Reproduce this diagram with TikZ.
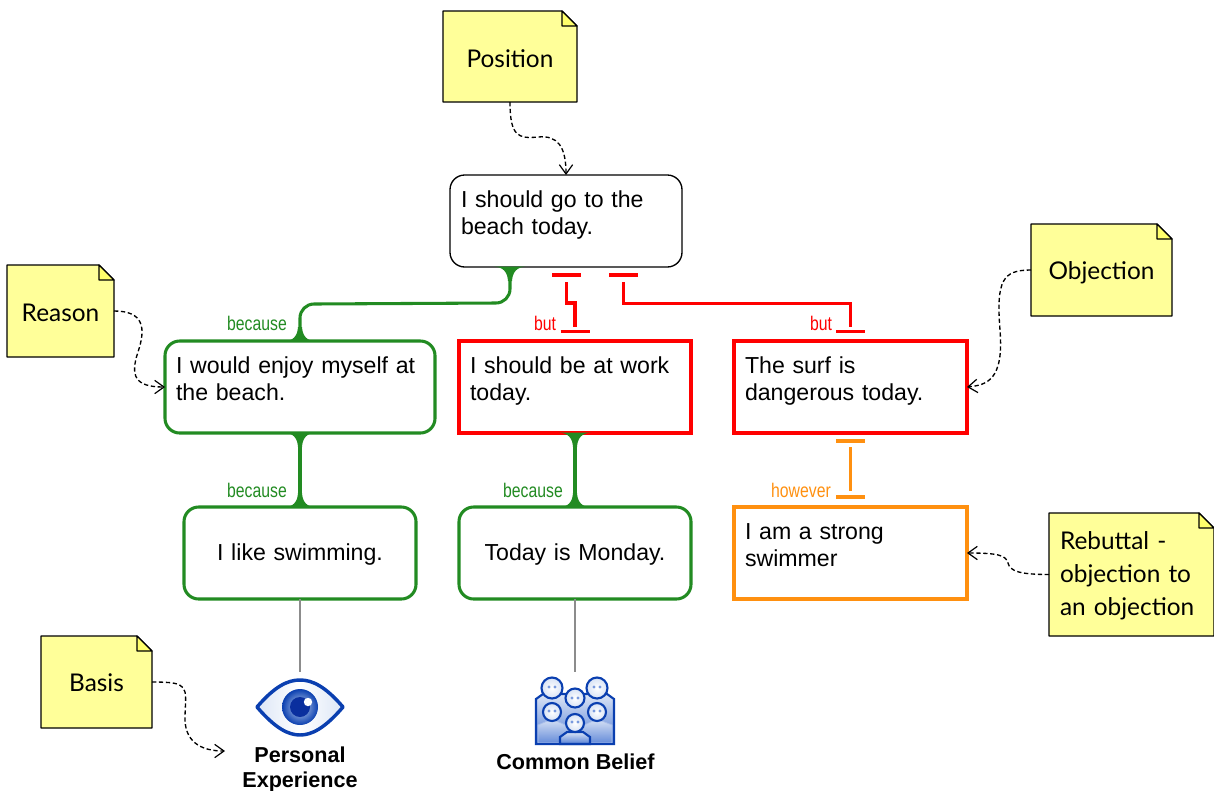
\documentclass[tikz,border=0pt]{standalone}
\usepackage{fontspec}
\setmainfont{Liberation Sans}
\newfontfamily\notef{Lato}
\newfontfamily\narrowf[FakeStretch=0.8]{Liberation Sans}
\usetikzlibrary{arrows.meta,backgrounds,calc}
\definecolor{notefill}{HTML}{FFFF99}
\definecolor{goodgreen}{HTML}{228B22}
\definecolor{badred}{HTML}{FF0000}
\definecolor{rebut}{HTML}{FF9010}
\definecolor{iconblue}{HTML}{0A3FB0}
\definecolor{icondark}{HTML}{0A2F9E}
\definecolor{iconmid}{HTML}{3F6FD0}
\definecolor{iconpale}{HTML}{C5D5F0}
\newcommand{\nudge}[2]{\raisebox{#1}[\height][\depth]{#2}}
\tikzset{
  wh/.style 2 args={minimum width=#1*0.75pt,minimum height=#2*0.75pt},
  argbox/.style 2 args={rectangle,inner sep=0pt,outer sep=0pt,wh={#1}{92},text width=(#1-22)*0.75pt,
     font=\fontsize{17.35}{20.25}\selectfont,line width=2.3pt,align=left},
  sharpbox/.style={line width=2.3pt},
  roundbox/.style={rounded corners=11pt},
  notebox/.style 2 args={rectangle,inner sep=0pt,outer sep=0pt,wh={#1}{#2},font=\notef\fontsize{18.3}{24.75}\selectfont},
  noteline/.style={draw=black,line width=0.9pt,fill=notefill,line join=round},
  dashlink/.style={draw=black,line width=1pt,dash pattern=on 3.2pt off 2pt,-{Straight Barb[length=7pt,width=10pt,line width=0.9pt]}},
  conn/.style={line width=2.3pt,line join=miter},
  bar/.style={line width=2.3pt},
  connlabel/.style={inner sep=0pt,font=\narrowf\fontsize{14.8}{16}\selectfont},
  iconlabel/.style={inner sep=0pt,align=center,font=\bfseries\fontsize{16.2}{18.5}\selectfont},
  grayline/.style={draw=black!45,line width=0.9pt},
  person/.style={draw=iconblue,line width=1.6pt,top color=iconpale!60,bottom color=iconmid!90},
  crowdbody/.style={draw=iconmid!45,line width=0.6pt,top color=iconpale!70,bottom color=iconmid!80},
  headc/.style={draw=iconblue,line width=1.6pt,inner color=white,outer color=iconpale!70},
}
% paper with a folded corner behind node #1
\newcommand{\notepaper}[1]{%
  \begin{pgfonlayer}{background}
    \path[noteline] (#1.north west) -- ($(#1.north east)+(-15,0)$) -- ($(#1.north east)+(0,15)$)
      -- (#1.south east) -- (#1.south west) -- cycle;
    \path[draw=black,line width=0.9pt,fill=notefill!70!yellow,line join=round] ($(#1.north east)+(-15,0)$) -- ($(#1.north east)+(-15,15)$) -- ($(#1.north east)+(0,15)$) -- cycle;
  \end{pgfonlayer}}
% flared junction: #1 point, #2 direction (+1 down, -1 up), #3 colour
\newcommand{\flare}[3]{%
  \fill[#3,shift={(#1)},yscale=#2] (-16,-0.5) .. controls (-7,0) and (-2.5,5) .. (-2,14) -- (2,14)
     .. controls (2.5,5) and (7,0) .. (16,-0.5) -- cycle;}
\begin{document}
\begin{tikzpicture}[x=0.75pt,y=-0.75pt]
\useasboundingbox (0,0) rectangle (1214,790);

% argument boxes
\node[argbox={232}{},draw=black,line width=1pt,roundbox] (top) at (566,221) {I should go to the\\beach today.\\[-8pt]\mbox{}};
\node[argbox={270}{},draw=goodgreen,roundbox] (r1) at (300,387) {I would enjoy myself at\\the beach.\\[-8pt]\mbox{}};
\node[argbox={232}{},draw=badred,sharpbox] (o1) at (575,387) {I should be at work\\today.\\[-8pt]\mbox{}};
\node[argbox={233}{},draw=badred,sharpbox] (o2) at (850.5,387) {The surf is\\dangerous today.\\[-8pt]\mbox{}};
\node[argbox={232}{},draw=goodgreen,roundbox,align=center] (r2) at (300,553) {\nudge{-1.5pt}{I like swimming.}};
\node[argbox={232}{},draw=goodgreen,roundbox,align=center] (r3) at (575,553) {\nudge{-1.5pt}{Today is Monday.}};
\node[argbox={233}{},draw=rebut,sharpbox] (rb) at (850.5,553) {I am a strong\\swimmer\\[-8pt]\mbox{}};

% green connectors
\coordinate (t1) at ($(top.south)+(-56,0)$);
\draw[goodgreen,conn] (t1) -- ++(0,22) arc[start angle=0,end angle=90,radius=14] -- (314,304) arc[start angle=-90,end angle=-180,radius=14] -- (r1.north);
\flare{t1}{1}{goodgreen}
\flare{r1.north}{-1}{goodgreen}
\draw[goodgreen,conn,line width=2.8pt] (r1.south) -- (r2.north);
\flare{r1.south}{1}{goodgreen}
\flare{r2.north}{-1}{goodgreen}
\draw[goodgreen,conn,line width=2.8pt] (o1.south) -- (r3.north);
\flare{o1.south}{1}{goodgreen}
\flare{r3.north}{-1}{goodgreen}

% objection connectors
\coordinate (b1) at (566.5,275);
\coordinate (b2) at (623.5,275);
\coordinate (b3) at (575,331.5);
\coordinate (b4) at (850.5,331.5);
\coordinate (b5) at (850.5,441);
\coordinate (b6) at (850.5,497);
\draw[badred,bar] ($(b1)+(-14.5,0)$) -- ($(b1)+(14.5,0)$);
\draw[badred,bar] ($(b2)+(-14.5,0)$) -- ($(b2)+(14.5,0)$);
\draw[badred,bar] ($(b3)+(-14.5,0)$) -- ($(b3)+(14.5,0)$);
\draw[badred,bar] ($(b4)+(-14.5,0)$) -- ($(b4)+(14.5,0)$);
\draw[rebut,bar] ($(b5)+(-14.5,0)$) -- ($(b5)+(14.5,0)$);
\draw[rebut,bar] ($(b6)+(-14.5,0)$) -- ($(b6)+(14.5,0)$);
\draw[badred,conn] ($(b1)+(0,7)$) -- (566.5,303) -- (575,303) -- ($(b3)+(0,-5)$);
\draw[badred,conn] ($(b2)+(0,7)$) -- (623.5,303.5) -- (850.5,303.5) -- ($(b4)+(0,-5)$);
\draw[rebut,conn] ($(b5)+(0,6)$) -- ($(b6)+(0,-6)$);

% connector labels
\node[connlabel,text=goodgreen,anchor=base] (l1) at (257,330) {because};
\node[connlabel,text=badred,anchor=base] (l2) at (545,330) {but};
\node[connlabel,text=badred,anchor=base] (l3) at (821,330) {but};
\node[connlabel,text=goodgreen,anchor=base] (l4) at (257,497) {because};
\node[connlabel,text=goodgreen,anchor=base] (l5) at (533,497) {because};
\node[connlabel,text=rebut,anchor=base] (l6) at (801,497) {however};

% notes
\node[notebox={134}{91}] (nPos) at (510,56.5) {\nudge{-1.5pt}{Position}};
\notepaper{nPos}
\node[notebox={107}{92}] (nRea) at (60.5,311) {\nudge{-1.5pt}{Reason}};
\notepaper{nRea}
\node[notebox={141}{92}] (nObj) at (1101.5,270) {\nudge{-2.25pt}{Objection}};
\notepaper{nObj}
\node[notebox={111}{92}] (nBas) at (96.5,682) {\nudge{-0.75pt}{Basis}};
\notepaper{nBas}
\node[notebox={165}{123},align=left,text width=143*0.75pt] (nReb) at (1131.5,574.5) {\nudge{-0.75pt}{Rebuttal -}\\\nudge{-0.75pt}{objection to}\\\nudge{-0.75pt}{an objection}};
\notepaper{nReb}

% note links
\coordinate (m1) at (538,137);
\draw[dashlink] (nPos.south) .. controls +(0,34) and +(-20,2) .. (m1) .. controls +(20,-2) and +(0,-28) .. (top.north);
\coordinate (m2) at (138,352);
\draw[dashlink] (nRea.east) .. controls +(30,0) and +(8,-24) .. (m2) .. controls +(-8,24) and +(-30,0) .. (r1.west);
\coordinate (m3) at (1000,330);
\draw[dashlink] (nObj.west) .. controls +(-28,0) and +(-4,-50) .. (m3) .. controls +(4,50) and +(20,-2) .. (o2.east);
\coordinate (m4) at (1008,563);
\draw[dashlink] (nReb.west) .. controls +(-30,0) and +(2,8) .. (m4) .. controls +(-2,-8) and +(30,0) .. (rb.east);
\coordinate (m5) at (185,716);
\coordinate (m6) at (225,751);
\draw[dashlink] (nBas.east) .. controls +(38,0) and +(1,-30) .. (m5) .. controls +(-1,25) and +(-25,0) .. (m6);

% icon frames
\node[inner sep=0pt,outer sep=0pt,wh={90}{70}] (eye) at (300,707) {};
\node[inner sep=0pt,outer sep=0pt,wh={80}{73}] (grp) at (575,708.5) {};
\draw[grayline] (r2.south) -- (eye.north);
\draw[grayline] (r3.south) -- (575,672);

% eye
\draw[iconblue,line width=2.6pt,line join=round,left color=iconpale!60,right color=iconpale!60,middle color=white]
  (257,707) .. controls (275,686) and (288,680) .. (300,680) .. controls (312,680) and (325,686) .. (343,707)
  .. controls (325,728) and (312,735) .. (300,735) .. controls (288,735) and (275,728) .. (257,707) -- cycle;
\shade[inner color=iconpale,outer color=iconblue] (300,707) circle[radius=18];
\fill[icondark] (300,707) circle[radius=10];
\fill[white] (308,702) circle[radius=4.2];
\node[iconlabel,anchor=north] (eyeT) at (300,746.5) {Personal\\Experience};

% crowd
\path[person] (536,699) -- (543,694) -- (607,694) -- (614,699) -- (614,744) -- (536,744) -- cycle;
\path[headc] (552,688) circle[radius=10.5];
\path[headc] (597,688) circle[radius=10.5];
\path[headc] (575,698) circle[radius=9.5];
\path[crowdbody] (538,743) -- (538,725) -- (552,719) -- (572,728) -- (572,743) -- cycle;
\path[crowdbody] (612,743) -- (612,725) -- (597,719) -- (578,728) -- (578,743) -- cycle;
\path[headc] (552,712) circle[radius=9];
\path[headc] (597,712) circle[radius=9];
\path[person] (560,744) -- (560,737) -- (567,732) -- (583,732) -- (590,737) -- (590,744) -- cycle;
\path[headc] (575,723) circle[radius=9];
\draw[iconblue,line width=1.6pt] (535.5,744) -- (614.5,744);
\foreach \ex/\ey in {552/687,597/687,575/698,552/711,597/711,575/722}{
  \fill[iconmid!70] (\ex-3,\ey) circle[radius=1.6];
  \fill[iconmid!70] (\ex+3,\ey) circle[radius=1.6];
}
\node[iconlabel,anchor=north] (grpT) at (575.5,754) {Common Belief};
\end{tikzpicture}
\end{document}
